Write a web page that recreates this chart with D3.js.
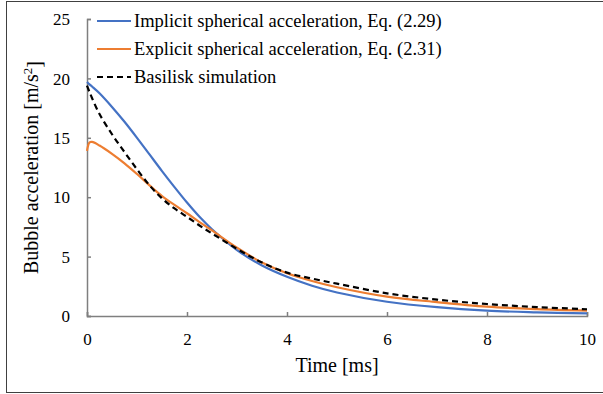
<!DOCTYPE html>
<html>
<head>
<meta charset="utf-8">
<script src="https://cdn.jsdelivr.net/npm/d3@7"></script>
<style>
  body { margin: 0; background: #fff; }
  svg text { font-family: "Liberation Serif", "Times New Roman", serif; fill: #000; }
</style>
</head>
<body>
<div id="chart"></div>
<script>
// time axis [ms] shared by the three curves
var time = [0, 0.05, 0.1, 0.25, 0.5, 0.75, 1, 1.25, 1.5, 1.75, 2, 2.25, 2.5, 3, 3.5, 4, 4.5, 5, 6, 7, 8, 9, 10];

// implicit spherical acceleration, Eq. (2.29)
var implicitAcc = [19.7, 19.5, 19.32, 18.75, 17.6, 16.35, 15.0, 13.6, 12.2, 10.85, 9.55, 8.35, 7.3, 5.55, 4.25, 3.3, 2.55, 1.98, 1.2, 0.74, 0.45, 0.31, 0.22];
// explicit spherical acceleration, Eq. (2.31)
var explicitAcc = [13.9, 14.6, 14.65, 14.35, 13.65, 12.85, 11.95, 11.0, 10.1, 9.35, 8.65, 7.9, 7.2, 5.75, 4.5, 3.6, 2.95, 2.42, 1.63, 1.17, 0.79, 0.58, 0.45];
// basilisk simulation
var basiliskAcc = [19.4, 18.85, 18.35, 17.0, 15.3, 13.8, 12.35, 11.0, 9.9, 9.05, 8.35, 7.62, 6.95, 5.65, 4.5, 3.65, 3.15, 2.72, 1.91, 1.38, 1.01, 0.75, 0.57];

var xTicks = [0, 2, 4, 6, 8, 10];
var yTicks = [0, 5, 10, 15, 20, 25];

var seriesNames = ["Implicit spherical acceleration, Eq. (2.29)",
                   "Explicit spherical acceleration, Eq. (2.31)",
                   "Basilisk simulation"];

var W = 603, H = 394;
var margin = {top: 19, right: 16, bottom: 78, left: 87},
    width = W - margin.left - margin.right,
    height = H - margin.top - margin.bottom;

var serif = '"Liberation Serif", "Times New Roman", serif';

var svg = d3.select("#chart").append("svg")
    .attr("width", W)
    .attr("height", H);

// outer frame (its right edge runs off the picture)
svg.append("rect")
  .attr("x", 6.5).attr("y", 1.5)
  .attr("width", 600).attr("height", 391)
  .attr("fill", "none")
  .attr("stroke", "#404040")
  .attr("stroke-width", 1);

var g = svg.append("g")
  .attr("transform", "translate(" + margin.left + "," + margin.top + ")");

var x = d3.scaleLinear().domain([0, 10]).range([0, width]);
var y = d3.scaleLinear().domain([0, 25]).range([height, 0]);

// axes (ticks point inward, like the original)
var xAxis = g.append("g")
  .attr("transform", "translate(0," + height + ")")
  .call(d3.axisBottom(x).tickValues(xTicks).tickSize(-4).tickPadding(0).tickFormat(d3.format("d")));
xAxis.attr("font-family", serif).attr("font-size", 17);
xAxis.selectAll("text").attr("y", 29).attr("dy", null)
  .style("font-family", serif).style("font-size", "17px");

var yAxis = g.append("g")
  .call(d3.axisLeft(y).tickValues(yTicks).tickSize(-4).tickPadding(0).tickFormat(d3.format("d")));
yAxis.attr("font-family", serif).attr("font-size", 17);
yAxis.selectAll("text").attr("x", -17).attr("dy", "0.34em")
  .style("font-family", serif).style("font-size", "17px");

g.selectAll(".domain").attr("stroke", "#7f7f7f").attr("stroke-width", 1.5);
g.selectAll(".tick line").attr("stroke", "#7f7f7f").attr("stroke-width", 1.5);

// axis titles
svg.append("text")
  .attr("x", margin.left + width / 2)
  .attr("y", 372)
  .attr("text-anchor", "middle")
  .style("font-size", "20px")
  .text("Time [ms]");

var yt = svg.append("text")
  .attr("transform", "translate(38," + (margin.top + height / 2) + ") rotate(-90)")
  .attr("text-anchor", "middle")
  .style("font-size", "20px");
yt.append("tspan").text("Bubble acceleration [m/s");
yt.append("tspan").attr("dy", "-0.45em").style("font-size", "13px").text("2");
yt.append("tspan").attr("dy", "0.45em").text("]");

// curves
var series = [
  {name: seriesNames[0], values: implicitAcc, color: "#4472c4", dash: null},
  {name: seriesNames[1], values: explicitAcc, color: "#ed7d31", dash: null},
  {name: seriesNames[2], values: basiliskAcc, color: "#000000", dash: "6,4"}
];

var line = d3.line()
  .x(function(d) { return x(d[0]); })
  .y(function(d) { return y(d[1]); })
  .curve(d3.curveCatmullRom.alpha(0.5));

series.forEach(function(s) {
  g.append("path")
    .datum(time.map(function(t, i) { return [t, s.values[i]]; }))
    .attr("fill", "none")
    .attr("stroke", s.color)
    .attr("stroke-width", 2.2)
    .attr("stroke-dasharray", s.dash)
    .attr("d", line);
});

// legend
var legend = svg.append("g").attr("transform", "translate(97,21)");
series.forEach(function(s, i) {
  var row = legend.append("g").attr("transform", "translate(0," + i * 28 + ")");
  row.append("line")
    .attr("x1", 0).attr("x2", 34)
    .attr("stroke", s.color)
    .attr("stroke-width", 2)
    .attr("stroke-dasharray", s.dash);
  row.append("text")
    .attr("x", 37)
    .attr("dy", "0.34em")
    .style("font-size", "18.5px")
    .text(s.name);
});
</script>
</body>
</html>
